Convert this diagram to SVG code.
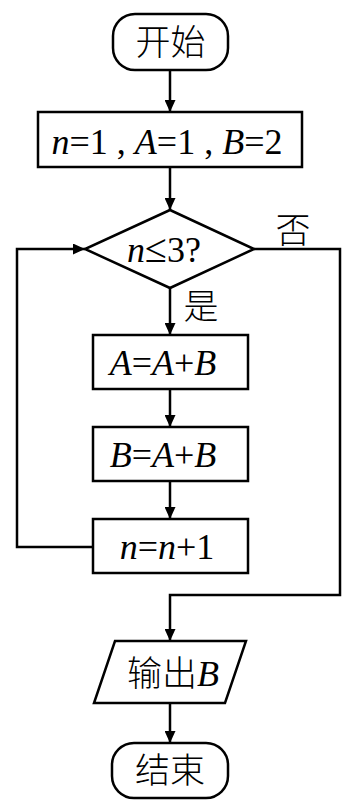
<svg xmlns="http://www.w3.org/2000/svg" width="354" height="808" viewBox="0 0 354 808">
<style>
.s{fill:#fff;stroke:#000;stroke-width:2.5}
.c{fill:none;stroke:#000;stroke-width:2.5}
.t{font-family:"Liberation Serif","Times New Roman",serif;font-size:36px;fill:#000}
.i{font-style:italic}
.z{font-family:"Noto Sans CJK SC",sans-serif;font-size:35px;font-weight:300;fill:#000}
</style>
<defs>
<marker id="ah" markerWidth="12" markerHeight="11" refX="12" refY="5.5" orient="auto" markerUnits="userSpaceOnUse">
<path d="M0,0 L12,5.5 L0,11 Z" fill="#000"/>
</marker>
</defs>
<rect width="354" height="808" fill="#fff"/>
<g id="connectors">
<line class="c" x1="170" y1="70" x2="170" y2="112" marker-end="url(#ah)"/>
<line class="c" x1="170" y1="167" x2="170" y2="210" marker-end="url(#ah)"/>
<line class="c" x1="170" y1="288" x2="170" y2="335" marker-end="url(#ah)"/>
<line class="c" x1="170" y1="389" x2="170" y2="427" marker-end="url(#ah)"/>
<line class="c" x1="170" y1="481" x2="170" y2="519" marker-end="url(#ah)"/>
<polyline class="c" points="93,547 17,547 17,249 85,249" marker-end="url(#ah)"/>
<polyline class="c" points="254,249 340,249 340,595 170,595 170,641" marker-end="url(#ah)"/>
<line class="c" x1="170" y1="703" x2="170" y2="743" marker-end="url(#ah)"/>
<text class="z" x="293" y="243" text-anchor="middle" font-size="29">否</text>
<text class="z" x="201" y="319" text-anchor="middle" font-size="30">是</text>
</g>
<g id="start">
<rect class="s" x="113" y="14" width="115" height="56" rx="22"/>
<text class="z" x="170.5" y="55" text-anchor="middle">开始</text>
</g>
<g id="init">
<rect class="s" x="38" y="112" width="264" height="55"/>
<text class="t" x="167" y="154" text-anchor="middle"><tspan class="i">n</tspan>=1 , <tspan class="i">A</tspan>=1 , <tspan class="i">B</tspan>=2</text>
</g>
<g id="cond">
<polygon class="s" points="170,210 254,249 170,288 85,249"/>
<text class="t" x="164" y="262" text-anchor="middle"><tspan class="i">n</tspan><tspan font-size="40">≤</tspan>3?</text>
</g>
<g id="stepA">
<rect class="s" x="93" y="335" width="155" height="54"/>
<text class="t" x="163" y="375" text-anchor="middle"><tspan class="i">A</tspan>=<tspan class="i">A</tspan>+<tspan class="i">B</tspan></text>
</g>
<g id="stepB">
<rect class="s" x="93" y="427" width="155" height="54"/>
<text class="t" x="163" y="467" text-anchor="middle"><tspan class="i">B</tspan>=<tspan class="i">A</tspan>+<tspan class="i">B</tspan></text>
</g>
<g id="stepN">
<rect class="s" x="93" y="519" width="155" height="54"/>
<text class="t" x="167" y="559" text-anchor="middle"><tspan class="i">n</tspan>=<tspan class="i">n</tspan>+1</text>
</g>
<g id="output">
<polygon class="s" points="115,641 246,641 225,703 94,703"/>
<text x="173" y="686" text-anchor="middle"><tspan class="z">输出</tspan><tspan class="t i">B</tspan></text>
</g>
<g id="end">
<rect class="s" x="112" y="743" width="116" height="55" rx="22"/>
<text class="z" x="170" y="783" text-anchor="middle">结束</text>
</g>
</svg>
